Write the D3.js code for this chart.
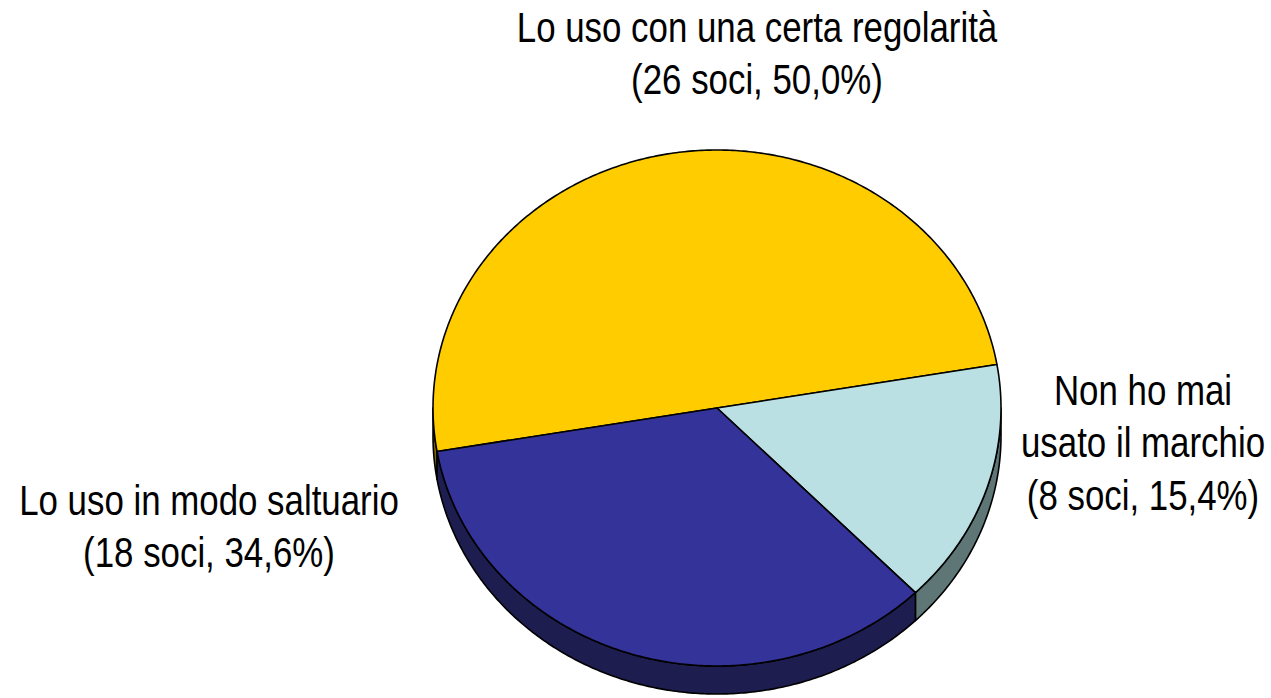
<!DOCTYPE html>
<html>
<head>
<meta charset="utf-8">
<script src="https://cdn.jsdelivr.net/npm/d3@7"></script>
<style>
  html, body { margin: 0; padding: 0; background: #fff; }
  svg { display: block; }
  text { font-family: "Liberation Sans", Arial, Helvetica, sans-serif; fill: #000; }
</style>
</head>
<body>
<svg id="chart" width="1271" height="698"></svg>
<script>
// Survey answers: how members use the brand
const categories = [
  "Lo uso con una certa regolarità",
  "Non ho mai usato il marchio",
  "Lo uso in modo saltuario"
];
const counts = [26, 8, 18];
const percents = ["50,0%", "15,4%", "34,6%"];
const labelLines = [
  ["Lo uso con una certa regolarità", "(26 soci, 50,0%)"],
  ["Non ho mai", "usato il marchio", "(8 soci, 15,4%)"],
  ["Lo uso in modo saltuario", "(18 soci, 34,6%)"]
];
const topColors  = ["#FFCC00", "#BBE0E3", "#333399"];
const sideColors = ["#806600", "#5F7677", "#1D1D4F"];

const W = 1271, H = 698;
const cx = 717, cy = 408;     // centre of the top face
const rx = 284, ry = 258;     // ellipse radii of the tilted disc
const depth = 28;             // thickness of the disc
const startDeg = -99.7;       // rotation of the first slice

const svg = d3.select("#chart");

const pie = d3.pie()
  .sort(null)
  .value(d => d)
  .startAngle(startDeg * Math.PI / 180)
  .endAngle(startDeg * Math.PI / 180 + 2 * Math.PI);

const arcs = pie(counts);

// angle (d3 convention: clockwise from 12 o'clock) -> point on the ellipse
const px = a => cx + rx * Math.sin(a);
const py = (a, dz = 0) => cy - ry * Math.cos(a) + dz;

const line = d3.line().x(d => d[0]).y(d => d[1]);

function sampleAngles(a0, a1) {
  const n = Math.max(2, Math.ceil(Math.abs(a1 - a0) / 0.01));
  return d3.range(n + 1).map(i => a0 + (a1 - a0) * i / n);
}

// Outer walls: only the front half (from 90° to 270°) faces the viewer
const frontStart = Math.PI / 2, frontEnd = 3 * Math.PI / 2;
const walls = svg.append("g");
arcs.forEach((d, i) => {
  [-2 * Math.PI, 0, 2 * Math.PI].forEach(shift => {
    const a0 = Math.max(d.startAngle + shift, frontStart);
    const a1 = Math.min(d.endAngle + shift, frontEnd);
    if (a1 <= a0) return;
    const angles = sampleAngles(a0, a1);
    const top = angles.map(a => [px(a), py(a)]);
    const bottom = angles.slice().reverse().map(a => [px(a), py(a, depth)]);
    walls.append("path")
      .attr("d", line(top.concat(bottom)) + "Z")
      .attr("fill", sideColors[i])
      .attr("stroke", "#000")
      .attr("stroke-width", 1.6)
      .attr("stroke-linejoin", "round");
  });
});

// Top faces
const faces = svg.append("g");
arcs.forEach((d, i) => {
  const pts = [[cx, cy]].concat(sampleAngles(d.startAngle, d.endAngle).map(a => [px(a), py(a)]));
  faces.append("path")
    .attr("d", line(pts) + "Z")
    .attr("fill", topColors[i])
    .attr("stroke", "#000")
    .attr("stroke-width", 1.6)
    .attr("stroke-linejoin", "round");
});

// Category labels, set in a condensed face
const fontSize = 42, lineGap = 52.5, squeeze = 0.83;
const labelPos = [
  { x: 757, y: 42 },
  { x: 1143, y: 405 },
  { x: 209, y: 515 }
];
const labels = svg.append("g").attr("font-size", fontSize).attr("text-anchor", "middle");
labelLines.forEach((lines, i) => {
  const t = labels.append("g")
    .attr("transform", `translate(${labelPos[i].x},${labelPos[i].y}) scale(${squeeze},1)`)
    .append("text")
    .attr("x", 0)
    .attr("y", 0);
  lines.forEach((s, j) => {
    t.append("tspan")
      .attr("x", 0)
      .attr("dy", j === 0 ? 0 : lineGap)
      .text(s);
  });
});
</script>
</body>
</html>
